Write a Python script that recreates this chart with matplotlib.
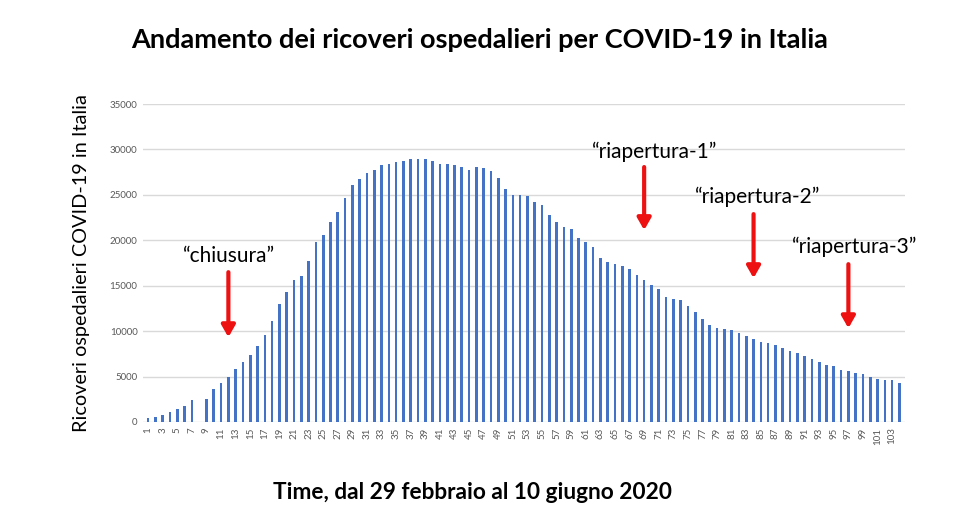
import numpy as np
import matplotlib
matplotlib.use("Agg")
import matplotlib.pyplot as plt

# giorni (1..104) e ricoveri ospedalieri
giorni = np.arange(1, 105)
ricoveri = [
    400, 550, 730, 1065, 1400, 1730, 2390, 0, 2570, 3600,
    4300, 4960, 5800, 6650, 7350, 8370, 9550, 11090, 12970, 14320,
    15680, 16050, 17700, 19760, 20600, 21960, 23140, 24680, 26040, 26700,
    27400, 27730, 28250, 28430, 28610, 28760, 28900, 28900, 28940, 28760,
    28430, 28430, 28250, 28100, 27770, 28100, 27910, 27620, 26890, 25670,
    25010, 25010, 24870, 24170, 23840, 22810, 21960, 21490, 21270, 20270,
    19760, 19250, 18030, 17560, 17370, 17190, 16820, 16160, 15650, 15130,
    14620, 13770, 13590, 13410, 12750, 12080, 11350, 10690, 10390, 10210,
    10170, 9840, 9510, 9180, 8850, 8670, 8480, 8150, 7820, 7640,
    7310, 6980, 6650, 6280, 6130, 5770, 5620, 5440, 5290, 4960,
    4770, 4590, 4590, 4260,
]

# annotazioni: testo, giorno, y testo, y inizio freccia, y fine freccia
eventi = ["\u201cchiusura\u201d", "\u201criapertura-1\u201d", "\u201criapertura-2\u201d", "\u201criapertura-3\u201d"]
eventi_giorno = [12, 69, 84, 97]
eventi_testo_x = [12.1, 70.4, 84.6, 97.9]
eventi_testo_y = [18250, 29710, 24750, 19240]
frecce_da = [16490, 28060, 22880, 17370]
frecce_a = [9330, 21120, 15830, 10320]

plt.rcParams['font.family'] = ['Lato', 'DejaVu Sans']

fig = plt.figure(figsize=(9.6, 5.32), dpi=100)
ax = fig.add_axes([0.149, 0.2068, 0.794, 0.5977])

ax.bar(giorni, ricoveri, width=0.36, color='#4472c4', zorder=3)

ax.set_ylim(0, 35000)
ax.set_xlim(0.3, 104.8)
ax.set_yticks(np.arange(0, 35001, 5000))
ax.set_xticks(giorni[::2])
ax.set_xticklabels([str(g) for g in giorni[::2]], rotation=90)
ax.tick_params(axis='both', length=0, labelsize=7, colors='#595959', pad=4)
ax.grid(axis='y', color='#d9d9d9', linewidth=1, zorder=0)
for s in ax.spines.values():
    s.set_visible(False)

for testo, g, tx, ty, y0, y1 in zip(eventi, eventi_giorno, eventi_testo_x, eventi_testo_y, frecce_da, frecce_a):
    ax.text(tx, ty, testo, ha='center', va='center', fontsize=15, color='black', zorder=5)
    ax.annotate('', xy=(g, y1), xytext=(g, y0),
                arrowprops=dict(arrowstyle='-|>,head_width=0.4,head_length=0.7',
                                color='#ee1111', lw=3, shrinkA=0, shrinkB=0),
                zorder=6)

fig.text(0.5, 0.925, 'Andamento dei ricoveri ospedalieri per COVID-19 in Italia',
         ha='center', va='center', fontsize=19.5, fontweight='bold')
fig.text(0.492, 0.075, 'Time, dal 29 febbraio al 10 giugno 2020',
         ha='center', va='center', fontsize=16.3, fontweight='bold')
fig.text(0.085, 0.5055, 'Ricoveri ospedalieri COVID-19 in Italia',
         ha='center', va='center', rotation=90, fontsize=14.3)

fig.savefig('out.png', dpi=100)
